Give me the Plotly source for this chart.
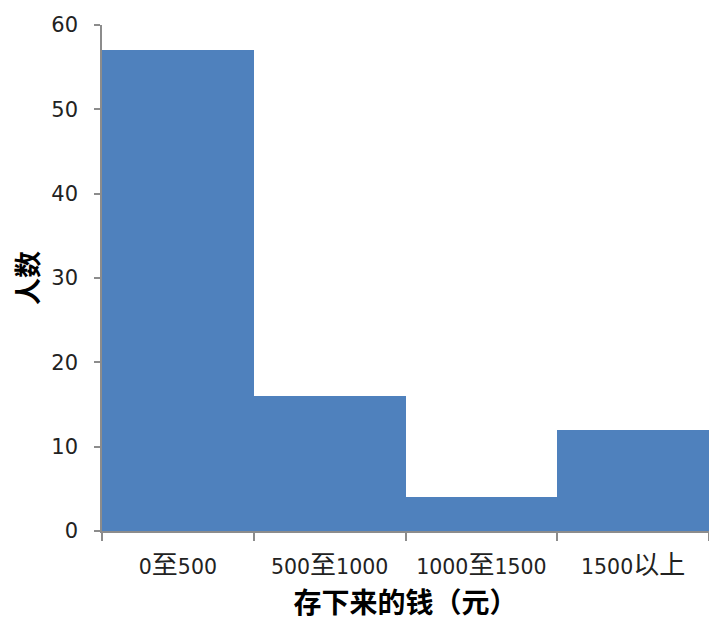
import re
import plotly.graph_objects as go

categories = ["0至500", "500至1000", "1000至1500", "1500以上"]
counts = [57, 16, 4, 12]
y_ticks = [0, 10, 20, 30, 40, 50, 60]


def style_cjk(label):
    return re.sub(r"([\u4e00-\u9fff]+)", r'<span style="font-size:26px">\1</span>', label)


tick_text = [style_cjk(c) for c in categories]

font_family = "DejaVu Sans, Noto Sans CJK SC, sans-serif"
cjk_family = "Noto Sans CJK SC, sans-serif"

fig = go.Figure(go.Bar(x=categories, y=counts, marker=dict(color="#4F81BD", line=dict(width=0))))

fig.update_layout(
    width=709, height=621,
    margin=dict(l=102, r=0, t=25, b=90),
    paper_bgcolor="white", plot_bgcolor="white",
    bargap=0,
    showlegend=False,
    font=dict(family=font_family, size=20, color="#222222"),
)
fig.update_xaxes(
    type="category", automargin=False,
    tickmode="array", tickvals=categories, ticktext=tick_text,
    showline=True, linecolor="#8c8c8c", linewidth=1.5,
    ticks="outside", tickson="boundaries", ticklen=8, tickcolor="#8c8c8c", tickwidth=1.5,
    ticklabelstandoff=17,
    tickfont=dict(size=20.5),
    title=dict(text="<b>存下来的钱（元）</b>", font=dict(family=cjk_family, size=28, color="black"), standoff=17),
    showgrid=False,
)
fig.update_yaxes(
    range=[0, 60], tickvals=y_ticks, automargin=False,
    showline=True, linecolor="#8c8c8c", linewidth=1.5,
    ticks="outside", ticklen=6, tickcolor="#8c8c8c", tickwidth=1.5,
    ticklabelstandoff=12,
    tickfont=dict(size=21),
    title=dict(text="<b>人数</b>", font=dict(family=cjk_family, size=27, color="black"), standoff=5),
    showgrid=False, zeroline=False,
)

fig.write_html(
    "out.html",
    config={"displayModeBar": False},
    post_script="document.body.style.margin='0';document.body.style.overflow='hidden';",
)
